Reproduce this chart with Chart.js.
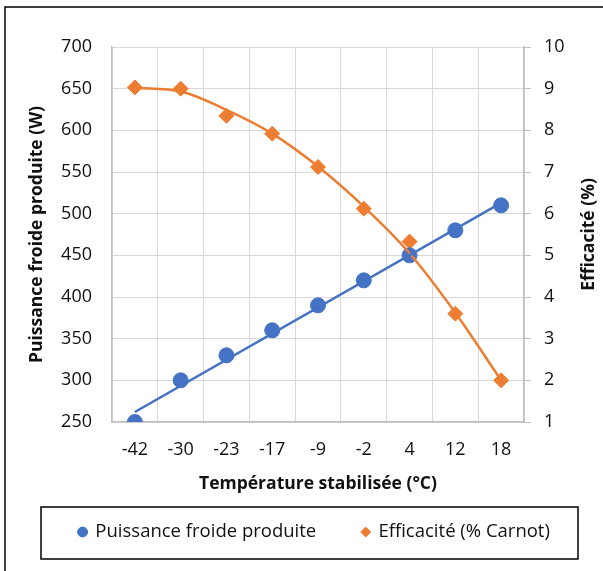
<!DOCTYPE html>
<html>
<head>
<meta charset="utf-8">
<script src="https://cdn.jsdelivr.net/npm/chart.js@4"></script>
<style>
    body { margin: 0; background: #fff; }
</style>
</head>
<body>
<canvas id="myChart" width="603" height="571"></canvas>
<script>
// données
const temperatures = ["-42", "-30", "-23", "-17", "-9", "-2", "4", "12", "18"];
const puissance = [250, 300, 330, 360, 390, 420, 450, 480, 510];
const efficacite = [9.03, 9.0, 8.35, 7.92, 7.12, 6.12, 5.33, 3.6, 2.0];
// courbes de tendance
const tendancePuissance = [262, null, null, null, null, null, null, null, 513];
const tendanceEfficacite = [9.02, 8.93, 8.49, 7.92, 7.13, 6.17, 5.05, 3.62, 2.0];

const bleu = "#4472C4";
const orange = "#ED7D31";
const police = "'Open Sans', 'Noto Sans', sans-serif";
const legPad = 46;
const legFont = 18.5;
const titreFont = 17.5;

// cadre extérieur, boîte de la légende, titre de l'axe droit
const cadre = {
    id: "cadre",
    beforeDraw(chart) {
        let leg = chart.legend;
        leg.left = 26;
        leg.right = 603;
        leg.width = 577;
        leg.top = 532 - legPad - legFont / 2;
    },
    afterDraw(chart) {
        let ctx = chart.ctx;
        ctx.save();
        ctx.strokeStyle = "#000";
        ctx.lineWidth = 1.5;
        ctx.beginPath();
        ctx.moveTo(5, 571);
        ctx.lineTo(5, 7);
        ctx.lineTo(603, 7);
        ctx.stroke();
        ctx.strokeRect(41, 507, 537, 52);
        // "Efficacité (%)" se lit de bas en haut
        let area = chart.chartArea;
        ctx.translate(589, (area.top + area.bottom) / 2);
        ctx.rotate(-Math.PI / 2);
        ctx.fillStyle = "#111";
        ctx.font = "bold " + titreFont + "px " + police;
        ctx.textAlign = "center";
        ctx.textBaseline = "middle";
        ctx.fillText("Efficacité (%)", 0, 0);
        ctx.restore();
    }
};

let chart = new Chart(document.getElementById("myChart").getContext("2d"), {
    type: "line",
    data: {
        labels: temperatures,
        datasets: [
            {
                label: "tendance puissance",
                data: tendancePuissance,
                yAxisID: "y",
                borderColor: bleu,
                borderWidth: 2.5,
                pointRadius: 0,
                spanGaps: true,
                fill: false
            },
            {
                label: "tendance efficacite",
                data: tendanceEfficacite,
                yAxisID: "y1",
                borderColor: orange,
                borderWidth: 2.5,
                pointRadius: 0,
                tension: 0.4,
                cubicInterpolationMode: "monotone",
                fill: false
            },
            {
                label: "Puissance froide produite",
                data: puissance,
                yAxisID: "y",
                showLine: false,
                pointStyle: "circle",
                pointRadius: 7.5,
                backgroundColor: bleu,
                borderColor: bleu
            },
            {
                label: "Efficacité (% Carnot)",
                data: efficacite,
                yAxisID: "y1",
                showLine: false,
                pointStyle: "rectRot",
                pointRadius: 7.5,
                backgroundColor: orange,
                borderColor: orange
            }
        ]
    },
    options: {
        responsive: false,
        animation: false,
        layout: { padding: { top: 47, left: 0, right: 0, bottom: 6 } },
        plugins: {
            tooltip: { enabled: false },
            legend: {
                position: "bottom",
                maxHeight: 60,
                labels: {
                    filter: item => item.datasetIndex >= 2,
                    usePointStyle: true,
                    boxWidth: 7,
                    boxHeight: 7,
                    padding: legPad,
                    color: "#111",
                    font: { family: police, size: legFont }
                }
            }
        },
        scales: {
            x: {
                offset: true,
                grid: { offset: true, color: "#d9d9d9", drawTicks: false },
                border: { color: "#bfbfbf", width: 1.5 },
                ticks: { color: "#111", padding: 17, font: { family: police, size: 18 } },
                title: {
                    display: true,
                    text: "Température stabilisée (°C)",
                    color: "#111",
                    padding: { top: 0, bottom: 10 },
                    font: { family: police, size: titreFont, weight: "bold" }
                },
                afterFit: s => { s.height = 83 }
            },
            y: {
                position: "left",
                min: 250,
                max: 700,
                ticks: { stepSize: 50, color: "#111", padding: 20, font: { family: police, size: 18 } },
                grid: { color: "#d9d9d9", drawTicks: false },
                border: { color: "#bfbfbf", width: 1.5 },
                title: {
                    display: true,
                    text: "Puissance froide produite (W)",
                    color: "#111",
                    padding: { top: 27, bottom: 0 },
                    font: { family: police, size: titreFont, weight: "bold" }
                },
                afterFit: s => { s.width = 112 }
            },
            y1: {
                position: "right",
                min: 1,
                max: 10,
                ticks: { stepSize: 1, color: "#111", padding: 13, font: { family: police, size: 18 } },
                grid: { drawOnChartArea: false, color: "#bfbfbf", tickLength: 7 },
                border: { color: "#bfbfbf", width: 1.5 },
                afterFit: s => { s.width = 79 }
            }
        }
    },
    plugins: [cadre]
});
</script>
</body>
</html>
